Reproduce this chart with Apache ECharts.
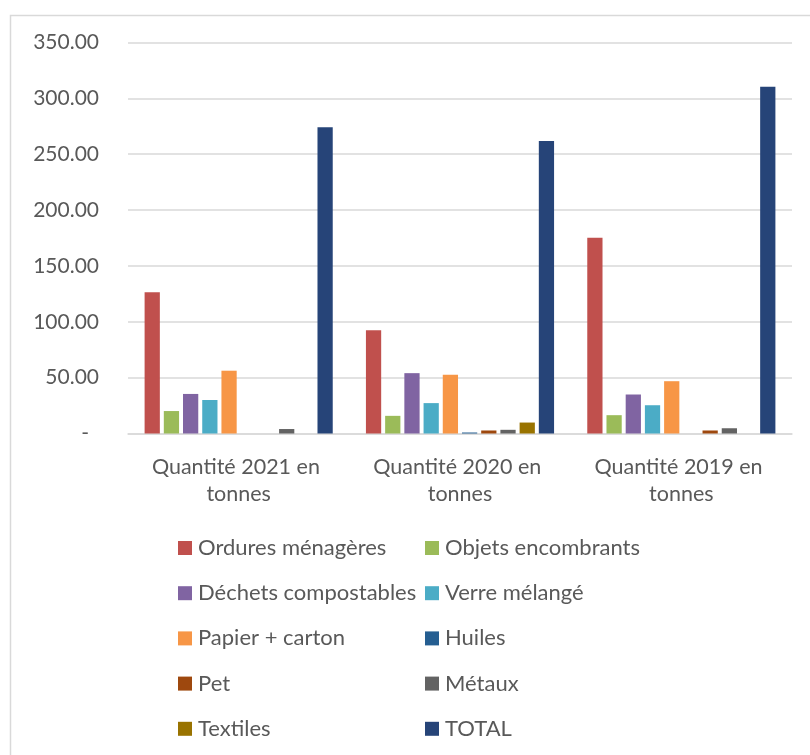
<!DOCTYPE html>
<html>
<head>
<meta charset="utf-8">
<script src="https://cdn.jsdelivr.net/npm/echarts@6/dist/echarts.min.js"></script>
<style>
html,body{margin:0;padding:0;background:#fff;}
#chart{width:810px;height:755px;}
</style>
</head>
<body>
<div id="chart"></div>
<script>
var categories = ['Quantité 2021 en tonnes', 'Quantité 2020 en tonnes', 'Quantité 2019 en tonnes'];
var seriesNames = ['Ordures ménagères', 'Objets encombrants', 'Déchets compostables', 'Verre mélangé', 'Papier + carton', 'Huiles', 'Pet', 'Métaux', 'Textiles', 'TOTAL'];
var ordures = [126.4, 92.5, 175.1];
var objets = [20.1, 15.8, 16.4];
var compost = [35.4, 54.0, 34.9];
var verre = [30.0, 27.2, 25.3];
var papier = [56.2, 52.5, 46.8];
var huiles = [0, 0.9, 0];
var pet = [0, 2.7, 2.7];
var metaux = [4.0, 3.3, 4.7];
var textiles = [0, 9.8, 0];
var total = [274.0, 261.8, 310.3];
var yTicks = { min: 0, max: 350, interval: 50 };

var seriesValues = [ordures, objets, compost, verre, papier, huiles, pet, metaux, textiles, total];
var colors = ['#C0504D', '#9BBB59', '#8064A2', '#4BACC6', '#F79646', '#255E91', '#9E480E', '#636363', '#997300', '#264478'];

var FONT = 'Lato';
var TXT = '#595959';

var chart = echarts.init(document.getElementById('chart'));
var legendCommon = {
  orient: 'vertical',
  top: 537,
  padding: 0,
  itemWidth: 14,
  itemHeight: 14,
  itemGap: 23.2,
  icon: 'rect',
  selectedMode: false,
  textStyle: { fontFamily: FONT, fontSize: 22, color: TXT, lineHeight: 22, padding: [0, 0, 0, 1] }
};
chart.setOption({
  animation: false,
  color: colors,
  graphic: [{
    type: 'rect',
    left: 8, top: 13,
    shape: { width: 820, height: 780 },
    style: { fill: 'none', stroke: '#D9D9D9', lineWidth: 1.5 },
    silent: true
  }],
  legend: [
    Object.assign({ left: 178, data: [seriesNames[0], seriesNames[2], seriesNames[4], seriesNames[6], seriesNames[8]] }, legendCommon),
    Object.assign({ left: 425, data: [seriesNames[1], seriesNames[3], seriesNames[5], seriesNames[7], seriesNames[9]] }, legendCommon)
  ],
  grid: { left: 128, right: 18, top: 42.4, bottom: 321.5, containLabel: false },
  xAxis: {
    type: 'category',
    data: categories,
    axisLine: { lineStyle: { color: '#D9D9D9', width: 1.5 } },
    axisTick: { show: false },
    axisLabel: {
      fontFamily: FONT, fontSize: 21.5, color: TXT,
      width: 200, overflow: 'break', lineHeight: 27, margin: 20,
      interval: 0
    }
  },
  yAxis: {
    type: 'value',
    min: yTicks.min, max: yTicks.max, interval: yTicks.interval,
    axisLine: { show: false },
    axisTick: { show: false },
    splitLine: { lineStyle: { color: '#D9D9D9', width: 1.5 } },
    axisLabel: {
      fontFamily: FONT, fontSize: 21, color: TXT, margin: 29,
      formatter: function (v) { return v === 0 ? '{d|-}' : v.toFixed(2); },
      rich: { d: { fontFamily: FONT, fontSize: 21, color: TXT, padding: [0, 10, 0, 0] } }
    }
  },
  series: seriesNames.map(function (n, i) {
    return {
      name: n,
      type: 'bar',
      data: seriesValues[i],
      barGap: '26%',
      barCategoryGap: '15%',
      itemStyle: { color: colors[i] }
    };
  })
});
</script>
</body>
</html>
